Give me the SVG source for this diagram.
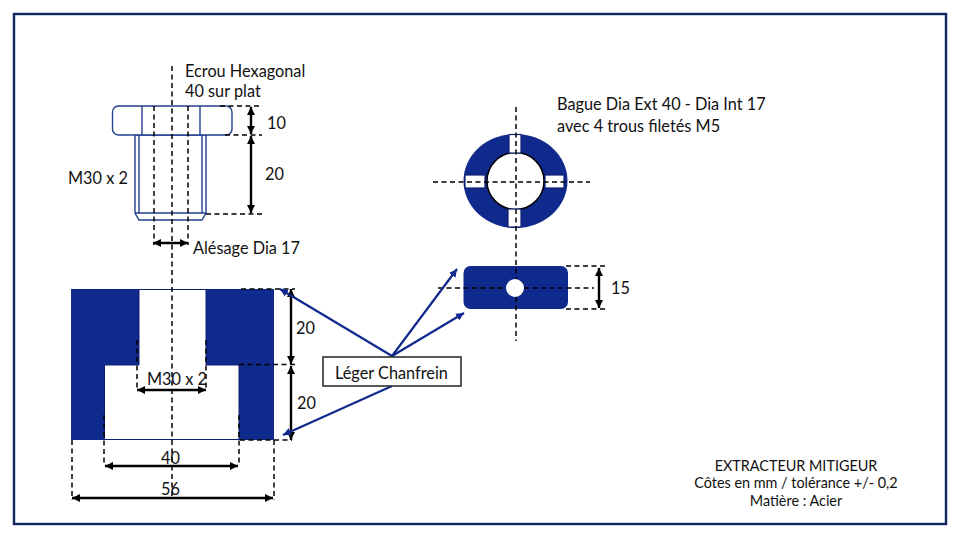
<svg xmlns="http://www.w3.org/2000/svg" width="960" height="540" viewBox="0 0 960 540">
<style>
text{font-family:Lato,"Open Sans","Liberation Sans",sans-serif;font-size:16.300px;fill:#111}
.small{font-size:14.400px;text-anchor:middle}
.d{fill:none;stroke:#000;stroke-width:1.500;stroke-dasharray:5 3.500}
.dim{fill:none;stroke:#000;stroke-width:2.400;marker-start:url(#k1);marker-end:url(#k)}
.lead{fill:none;stroke:#10298c;stroke-width:2.200;marker-end:url(#b)}
.o{fill:#fff;stroke:#23408f;stroke-width:1.400}
.f{fill:#10298c}
.w{fill:#fff;stroke:#0c2070;stroke-width:1.200}
</style>
<defs>
<marker id="k" markerUnits="userSpaceOnUse" markerWidth="9" markerHeight="9" refX="8" refY="4.500" orient="auto"><path d="M0 .5L8 4.500L0 8.500z" fill="#000"/></marker>
<marker id="k1" markerUnits="userSpaceOnUse" markerWidth="9" markerHeight="9" refX="0" refY="4.500" orient="auto"><path d="M8 .5L0 4.500L8 8.500z" fill="#000"/></marker>
<marker id="b" markerUnits="userSpaceOnUse" markerWidth="9" markerHeight="9" refX="8" refY="4.500" orient="auto"><path d="M0 .5L8 4.500L0 8.500z" fill="#10298c"/></marker>
</defs>
<rect x="14" y="14" width="932" height="510" fill="#fff" stroke="#10265f" stroke-width="2.400"/>
<g id="ecrou">
<path class="o" d="M135 135V213L139 220H202L206 213V135z"/>
<path class="o" d="M139 135V213M202 135V213M135 213H206"/>
<rect class="o" x="112.500" y="106" width="119.500" height="29" rx="6"/>
<path class="o" d="M142 106V135M200 106V135"/>
</g>
<g id="piece">
<rect class="f" x="71" y="289" width="203" height="151"/>
<path d="M139 289.500V365H104.500V439.500H239V365H206V289.500z" fill="#fff" stroke="#0c2070" stroke-width="1"/>
</g>
<g id="bague">
<ellipse class="f" cx="515.500" cy="181" rx="52" ry="47"/>
<circle cx="515.500" cy="181" r="28.500" fill="#fff" stroke="#000" stroke-width="1.500"/>
<rect class="w" x="509" y="134.500" width="12" height="18.500"/>
<rect class="w" x="508" y="209" width="13" height="18"/>
<rect class="w" x="465" y="175" width="20" height="13"/>
<rect class="w" x="545" y="175" width="19" height="13"/>
</g>
<g id="plat">
<rect class="f" x="463.500" y="266" width="104.500" height="43" rx="7"/>
<circle cx="515" cy="288" r="9" fill="#fff"/>
</g>
<g id="connectors">
<path class="d" d="M172 66V498"/>
<path class="d" d="M154 106V245M188 106V245"/>
<path class="d" d="M220 106H262M225 135H262M206 214H264"/>
<path class="d" d="M137 340V391M206 340V391M104 415V466M239 415V466M72 440V500M274 440V500"/>
<path class="d" d="M241 289H295M239 364.500H295M240 440H292"/>
<path class="d" d="M516 107V279M516 297V341"/>
<path class="d" d="M433 182H590M438 288H506M524 288H594"/>
<path class="d" d="M566 266H605M566 309H605"/>
<path class="dim" d="M251 107V134"/>
<path class="dim" d="M251 136V213"/>
<path class="dim" d="M153 243H188"/>
<path class="dim" d="M137 390H206"/>
<path class="dim" d="M105 466H238"/>
<path class="dim" d="M72 498H273"/>
<path class="dim" d="M291 289V364"/>
<path class="dim" d="M291 366V440"/>
<path class="dim" d="M599 268V308"/>
<path class="lead" d="M392 356L280 289"/>
<path class="lead" d="M392 356L457 269"/>
<path class="lead" d="M392 356L464 313"/>
<path class="lead" d="M392 386L283 435"/>
</g>
<g id="chanfrein">
<rect x="323" y="357" width="138" height="29" fill="#fff" stroke="#222" stroke-width="1.500"/>
<text x="335" y="379">Léger Chanfrein</text>
</g>
<g id="labels">
<text x="185" y="77">Ecrou Hexagonal</text>
<text x="185" y="97">40 sur plat</text>
<text x="267" y="129">10</text>
<text x="265" y="180">20</text>
<text x="68" y="184">M30 x 2</text>
<text x="193" y="254">Alésage Dia 17</text>
<text x="147" y="385">M30 x 2</text>
<text x="161" y="464">40</text>
<text x="161" y="495">56</text>
<text x="296" y="334">20</text>
<text x="297" y="409">20</text>
<text x="557" y="110">Bague Dia Ext 40 - Dia Int 17</text>
<text x="557" y="132">avec 4 trous filetés M5</text>
<text x="611" y="294">15</text>
<text x="796" y="471" class="small">EXTRACTEUR MITIGEUR</text>
<text x="796" y="488" class="small">Côtes en mm / tolérance +/- 0,2</text>
<text x="796" y="506" class="small">Matière : Acier</text>
</g>
</svg>
